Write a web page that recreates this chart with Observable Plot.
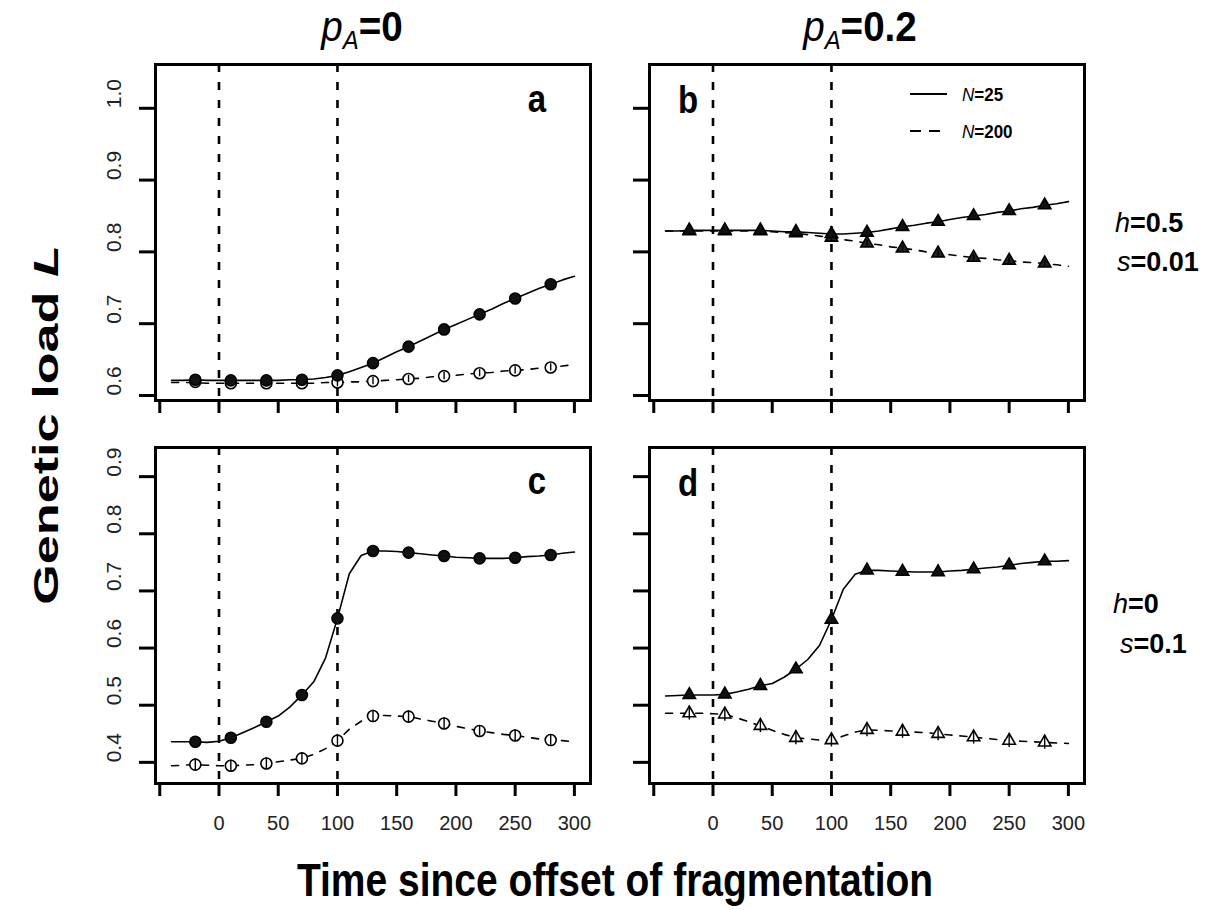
<!DOCTYPE html>
<html><head><meta charset="utf-8">
<script src="https://cdn.jsdelivr.net/npm/d3@7"></script>
<script src="https://cdn.jsdelivr.net/npm/@observablehq/plot@0.6"></script>
<style>
body{margin:0;background:#fff;}
#page{position:relative;width:1226px;height:910px;background:#fff;overflow:hidden;font-family:"Liberation Sans",Arial,sans-serif;}
#page svg{position:absolute;}
</style></head><body><div id="page"></div>
<script>
// ---------- data ----------
const lineTime = [-40,-30,-20,-10,0,10,20,30,40,50,60,70,80,90,100,110,120,130,140,150,160,170,180,190,200,210,220,230,240,250,260,270,280,290,300];
const pointTime = [-20,10,40,70,100,130,160,190,220,250,280];
const xTicks = [-50,0,50,100,150,200,250,300];
const xTickLabels = [0,50,100,150,200,250,300];
const yTicksTop = [0.6,0.7,0.8,0.9,1.0];
const yTicksBottom = [0.4,0.5,0.6,0.7,0.8,0.9];
const fragmentationBounds = [0,100];
const seriesNames = ["25","200"];
const panelLetters = ["a","b","c","d"];
const columnValues = ["0","0.2"];
const rowH = ["0.5","0"];
const rowS = ["0.01","0.1"];

// panel a (pA=0, h=0.5, s=0.01)
const lineA25  = [0.621,0.621,0.622,0.621,0.621,0.621,0.621,0.621,0.621,0.621,0.622,0.622,0.623,0.625,0.628,0.633,0.639,0.645,0.653,0.661,0.668,0.676,0.684,0.692,0.699,0.706,0.713,0.720,0.728,0.735,0.742,0.749,0.755,0.761,0.766];
const lineA200 = [0.618,0.618,0.618,0.617,0.617,0.617,0.617,0.617,0.617,0.617,0.617,0.617,0.617,0.618,0.618,0.619,0.619,0.620,0.621,0.622,0.623,0.624,0.626,0.627,0.628,0.630,0.631,0.632,0.634,0.635,0.636,0.638,0.639,0.641,0.643];
const ptA25  = [0.622,0.621,0.621,0.622,0.628,0.645,0.668,0.692,0.713,0.735,0.755];
const ptA200 = [0.619,0.617,0.617,0.617,0.618,0.620,0.623,0.627,0.631,0.635,0.639];
const errA200 = [0.005,0.005,0.005,0.005,0.006,0.005,0.005,0.005,0.005,0.005,0.005];

// panel b (pA=0.2, h=0.5, s=0.01)
const lineB25  = [0.829,0.829,0.830,0.830,0.830,0.830,0.830,0.830,0.830,0.829,0.828,0.828,0.827,0.826,0.825,0.825,0.826,0.827,0.829,0.832,0.835,0.837,0.840,0.842,0.845,0.848,0.850,0.852,0.855,0.857,0.860,0.862,0.865,0.867,0.870];
const lineB200 = [0.829,0.829,0.829,0.829,0.829,0.829,0.829,0.829,0.829,0.828,0.827,0.826,0.824,0.822,0.820,0.817,0.815,0.812,0.810,0.807,0.805,0.803,0.800,0.798,0.796,0.794,0.792,0.791,0.789,0.788,0.786,0.785,0.784,0.782,0.780];
const ptB25  = [0.830,0.830,0.830,0.828,0.825,0.827,0.835,0.842,0.850,0.857,0.865];
const ptB200 = [0.829,0.829,0.829,0.826,0.820,0.812,0.805,0.798,0.792,0.788,0.784];
const errB200 = [0.004,0.004,0.004,0.004,0.004,0.004,0.004,0.004,0.004,0.004,0.004];

// panel c (pA=0, h=0, s=0.1)
const lineC25  = [0.436,0.436,0.436,0.435,0.437,0.443,0.452,0.461,0.471,0.481,0.497,0.518,0.541,0.583,0.652,0.730,0.762,0.770,0.770,0.769,0.767,0.765,0.763,0.761,0.759,0.758,0.757,0.757,0.757,0.758,0.760,0.761,0.763,0.766,0.768];
const lineC200 = [0.394,0.395,0.396,0.395,0.394,0.394,0.395,0.396,0.398,0.401,0.404,0.407,0.414,0.424,0.438,0.458,0.472,0.481,0.482,0.481,0.480,0.476,0.472,0.468,0.463,0.459,0.455,0.452,0.449,0.447,0.444,0.441,0.439,0.438,0.436];
const ptC25  = [0.436,0.443,0.471,0.518,0.652,0.770,0.767,0.761,0.757,0.758,0.763];
const ptC200 = [0.396,0.394,0.398,0.407,0.438,0.481,0.480,0.468,0.455,0.447,0.439];
const errC200 = [0.010,0.010,0.010,0.010,0.011,0.010,0.010,0.010,0.009,0.010,0.009];

// panel d (pA=0.2, h=0, s=0.1)
const lineD25  = [0.516,0.517,0.518,0.518,0.518,0.519,0.523,0.528,0.534,0.538,0.549,0.563,0.580,0.605,0.650,0.703,0.729,0.736,0.736,0.735,0.734,0.733,0.733,0.733,0.735,0.736,0.738,0.740,0.742,0.745,0.748,0.750,0.752,0.752,0.753];
const lineD200 = [0.486,0.486,0.486,0.486,0.485,0.484,0.478,0.471,0.464,0.456,0.449,0.443,0.441,0.439,0.439,0.446,0.453,0.457,0.456,0.455,0.454,0.453,0.452,0.450,0.448,0.446,0.444,0.442,0.440,0.438,0.437,0.436,0.435,0.434,0.433];
const ptD25  = [0.518,0.519,0.534,0.563,0.650,0.736,0.734,0.733,0.738,0.745,0.752];
const ptD200 = [0.486,0.484,0.464,0.443,0.439,0.457,0.454,0.450,0.444,0.438,0.435];
const errD200 = [0.012,0.012,0.012,0.012,0.012,0.012,0.012,0.012,0.012,0.012,0.012];

// ---------- drawing ----------
const FONT = '"Liberation Sans", Arial, sans-serif';
const page = document.getElementById("page");

function stretchTexts(svg, label, sx, sy) {
  svg.querySelectorAll(`g[aria-label="${label}"] text`).forEach(t => {
    let tr = t.getAttribute("transform");
    if (!tr) {
      const x = t.getAttribute("x") || 0, y = t.getAttribute("y") || 0;
      t.removeAttribute("x"); t.removeAttribute("y");
      tr = `translate(${x},${y})`;
    }
    t.setAttribute("transform", tr + ` scale(${sx},${sy})`);
  });
}

function panel(o) {
  const l25 = lineTime.map((t, i) => ({t, v: o.l25[i]}));
  const l200 = lineTime.map((t, i) => ({t, v: o.l200[i]}));
  const p25 = pointTime.map((t, i) => ({t, v: o.p25[i]}));
  const p200 = pointTime.map((t, i) => ({t, v: o.p200[i], e: o.e200[i]}));
  const marks = [
    Plot.ruleX(fragmentationBounds, {x: d => d, stroke: "#000", strokeWidth: 2.6, strokeDasharray: "8,10"}),
    Plot.line(l200, {x: "t", y: "v", stroke: "#000", strokeWidth: 1.6, strokeDasharray: "7,8"}),
    Plot.line(l25, {x: "t", y: "v", stroke: "#000", strokeWidth: 1.6}),
    Plot.dot(p200, {x: "t", y: "v", symbol: o.symbol, r: o.r, fill: o.fill200, stroke: "#000", strokeWidth: 1.6}),
    Plot.ruleX(p200, {x: "t", y1: d => d.v - d.e, y2: d => d.v + d.e, stroke: "#000", strokeWidth: 1.4}),
    Plot.dot(p25, {x: "t", y: "v", symbol: o.symbol, r: o.r, fill: "#111", stroke: "#000", strokeWidth: 1.6}),
    Plot.frame({stroke: "#000", strokeWidth: 3}),
    Plot.axisX(xTicks, {tickSize: 13, strokeWidth: 3, tickFormat: () => "", label: null}),
    Plot.axisY(o.yTicks, {tickSize: 16, strokeWidth: 3, tickFormat: () => "", label: null})
  ];
  if (o.yLabels) marks.push(Plot.text(o.yTicks, {y: d => d, text: d => d.toFixed(1), frameAnchor: "left", dx: -41, rotate: -90, fontSize: 21, fill: "#222", lineAnchor: "middle"}));
  if (o.xLabels) marks.push(Plot.text(xTickLabels, {x: d => d, text: d => String(d), frameAnchor: "bottom", dy: 40, fontSize: 20, fill: "#222", lineAnchor: "middle", ariaLabel: "xlabel"}));
  const svg = Plot.plot({
    width: o.width, height: o.height,
    marginLeft: o.ml, marginRight: o.mr, marginTop: o.mt, marginBottom: o.mb,
    x: {domain: [-53.6, 313.6]},
    y: {domain: o.yDomain},
    style: {background: "transparent", overflow: "visible", fontFamily: FONT},
    marks
  });
  stretchTexts(svg, "xlabel", 0.9, 1.3);
  svg.style.left = o.left + "px";
  svg.style.top = o.top + "px";
  page.appendChild(svg);
}

const topRow = {top: 0, height: 440, mt: 64, mb: 40, yDomain: [0.593, 1.061], yTicks: yTicksTop, xLabels: false};
const botRow = {top: 440, height: 470, mt: 7, mb: 127, yDomain: [0.363, 0.951], yTicks: yTicksBottom, xLabels: true};
const leftCol = {left: 0, width: 600, ml: 155, mr: 10, yLabels: true, symbol: "circle", r: 5.5};
const rightCol = {left: 600, width: 500, ml: 49, mr: 16, yLabels: false, symbol: "triangle", r: 4.6};

panel({...topRow, ...leftCol, l25: lineA25, l200: lineA200, p25: ptA25, p200: ptA200, e200: errA200, fill200: "#fff"});
panel({...topRow, ...rightCol, l25: lineB25, l200: lineB200, p25: ptB25, p200: ptB200, e200: errB200, fill200: "#222"});
panel({...botRow, ...leftCol, l25: lineC25, l200: lineC200, p25: ptC25, p200: ptC200, e200: errC200, fill200: "#fff"});
panel({...botRow, ...rightCol, l25: lineD25, l200: lineD200, p25: ptD25, p200: ptD200, e200: errD200, fill200: "#fff"});

// ---------- annotations overlay ----------
const NS = "http://www.w3.org/2000/svg";
const ov = document.createElementNS(NS, "svg");
ov.setAttribute("width", 1226); ov.setAttribute("height", 910);
ov.style.left = "0px"; ov.style.top = "0px"; ov.style.pointerEvents = "none";
ov.style.fontFamily = FONT;
page.appendChild(ov);

function label(parts, x, y, {size = 20, anchor = "start", sx = 1, sy = 1, rotate = 0, fill = "#000"} = {}) {
  const t = document.createElementNS(NS, "text");
  t.setAttribute("transform", `translate(${x},${y}) rotate(${rotate}) scale(${sx},${sy})`);
  t.setAttribute("text-anchor", anchor);
  t.setAttribute("font-size", size);
  t.setAttribute("fill", fill);
  for (const p of parts) {
    const s = document.createElementNS(NS, "tspan");
    s.textContent = p.t;
    if (p.i) s.setAttribute("font-style", "italic");
    if (p.size) s.setAttribute("font-size", p.size);
    if (p.dy) s.setAttribute("dy", p.dy);
    s.setAttribute("font-weight", p.b ? "bold" : "normal");
    t.appendChild(s);
  }
  ov.appendChild(t);
  return t;
}
function seg(x1, y1, x2, y2, dash) {
  const l = document.createElementNS(NS, "line");
  l.setAttribute("x1", x1); l.setAttribute("y1", y1); l.setAttribute("x2", x2); l.setAttribute("y2", y2);
  l.setAttribute("stroke", "#000"); l.setAttribute("stroke-width", 1.8);
  if (dash) l.setAttribute("stroke-dasharray", dash);
  ov.appendChild(l);
}

// column headers
[[362, columnValues[0]], [860, columnValues[1]]].forEach(([x, v]) => {
  label([{t: "p", i: true}, {t: "A", i: true, size: 26, dy: 8}, {t: "=" + v, b: true, dy: -8}], x, 41, {size: 42, anchor: "middle", sx: 0.92, sy: 1.0});
});
// row labels
label([{t: "h", i: true}, {t: "=0.5", b: true}], 1115, 232, {size: 27});
label([{t: "s", i: true}, {t: "=0.01", b: true}], 1117, 271, {size: 27});
label([{t: "h", i: true}, {t: "=0", b: true}], 1113, 613, {size: 27});
label([{t: "s", i: true}, {t: "=0.1", b: true}], 1120, 653, {size: 27});
// panel letters
label([{t: panelLetters[0], b: true}], 537, 112, {size: 33, anchor: "middle", sy: 1.15});
label([{t: panelLetters[1], b: true}], 688, 113, {size: 33, anchor: "middle", sy: 1.15});
label([{t: panelLetters[2], b: true}], 537, 494, {size: 33, anchor: "middle", sy: 1.15});
label([{t: panelLetters[3], b: true}], 688, 496, {size: 33, anchor: "middle", sy: 1.15});
// legend
seg(910, 94, 947, 94);
seg(910, 131, 942, 131, "11,8");
label([{t: "N", i: true}, {t: "=" + seriesNames[0], b: true}], 962, 101, {size: 17, sy: 1.1});
label([{t: "N", i: true}, {t: "=" + seriesNames[1], b: true}], 962, 138, {size: 17, sy: 1.1});
// axis titles
label([{t: "Time since offset of fragmentation", b: true}], 615, 896, {size: 39, anchor: "middle", sx: 1.0, sy: 1.2});
label([{t: "Genetic load ", b: true}, {t: "L", b: true, i: true}], 58, 425, {size: 36, anchor: "middle", rotate: -90, sx: 1.45, sy: 1});
</script></body></html>
